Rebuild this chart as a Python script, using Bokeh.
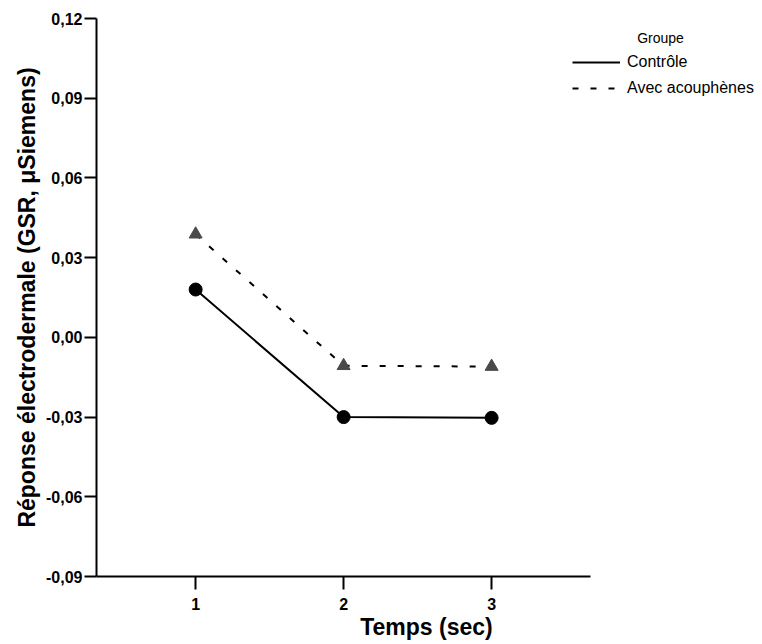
from bokeh.plotting import figure
from bokeh.models import Range1d, FixedTicker, Legend, LegendItem, Label, ColumnDataSource
from bokeh.embed import file_html
from bokeh.resources import INLINE

# Data
temps = [1, 2, 3]
controle = [0.018, -0.030, -0.0303]
acouphenes = [0.0388, -0.0107, -0.011]
y_ticks = [-0.09, -0.06, -0.03, 0.0, 0.03, 0.06, 0.09, 0.12]
y_tick_labels = ["-0,09", "-0,06", "-0,03", "0,00", "0,03", "0,06", "0,09", "0,12"]
x_ticks = [1, 2, 3]
series_names = ["Contrôle", "Avec acouphènes"]
legend_title = "Groupe"

FONT = "Liberation Sans"

# frame is extended to the right so the legend is not clipped; the x axis is bounded
p = figure(width=762, height=644, output_backend="svg", toolbar_location=None,
           x_range=Range1d(0.33, 4.79), y_range=Range1d(-0.09, 0.12),
           min_border_left=96, min_border_right=6, min_border_top=18, min_border_bottom=68)
p.outline_line_color = None
p.xgrid.visible = False
p.ygrid.visible = False
p.background_fill_color = "white"
p.border_fill_color = "white"

src_c = ColumnDataSource(dict(x=temps, y=controle))
src_a = ColumnDataSource(dict(x=temps, y=acouphenes))

r_c = p.line("x", "y", source=src_c, line_color="black", line_width=2)
p.scatter("x", "y", source=src_c, marker="circle", size=13, fill_color="black", line_color="black")

r_a = p.line("x", "y", source=src_a, line_color="black", line_width=2, line_dash="6 12")
p.scatter("x", "y", source=src_a, marker="triangle", size=13, fill_color="#4a4a4a", line_color="#4a4a4a")

# Axes
for ax in (p.xaxis[0], p.yaxis[0]):
    ax.axis_line_width = 2
    ax.axis_line_color = "black"
    ax.major_tick_line_width = 2
    ax.major_tick_line_color = "black"
    ax.major_tick_in = 0
    ax.minor_tick_line_color = None
    ax.major_label_text_font = FONT
    ax.major_label_text_font_style = "bold"
    ax.major_label_text_font_size = "16px"
    ax.major_label_text_color = "black"
    ax.axis_label_text_font = FONT
    ax.axis_label_text_font_style = "bold"
    ax.axis_label_text_font_size = "23px"
    ax.axis_label_text_color = "black"

p.xaxis.bounds = (0.33, 3.67)
p.xaxis.ticker = FixedTicker(ticks=x_ticks)
p.xaxis.major_tick_out = 13
p.xaxis.major_label_standoff = 8
p.xaxis.axis_label = "Temps (sec)"
p.xaxis.axis_label_standoff = 1

p.yaxis.ticker = FixedTicker(ticks=y_ticks)
p.yaxis.major_tick_out = 12
p.yaxis.major_label_overrides = {t: l for t, l in zip(y_ticks, y_tick_labels)}
p.yaxis.major_label_standoff = 2
p.yaxis.axis_label = "Réponse électrodermale (GSR, μSiemens)"
p.yaxis.axis_label_standoff = 3

legend = Legend(items=[LegendItem(label=series_names[0], renderers=[r_c]),
                       LegendItem(label=series_names[1], renderers=[r_a])],
                location=(476, 478), padding=0, margin=0, spacing=6,
                label_height=20, glyph_height=20, glyph_width=48, label_standoff=7,
                border_line_color=None, background_fill_alpha=0,
                label_text_font=FONT, label_text_font_size="16px", label_text_color="black")
p.add_layout(legend, "center")

title = Label(x=564, y=539, x_units="screen", y_units="screen", text=legend_title,
              text_align="center", text_baseline="middle", text_font=FONT,
              text_font_size="14px", text_color="black")
p.add_layout(title)

open("out.html", "w").write(file_html(p, INLINE))
